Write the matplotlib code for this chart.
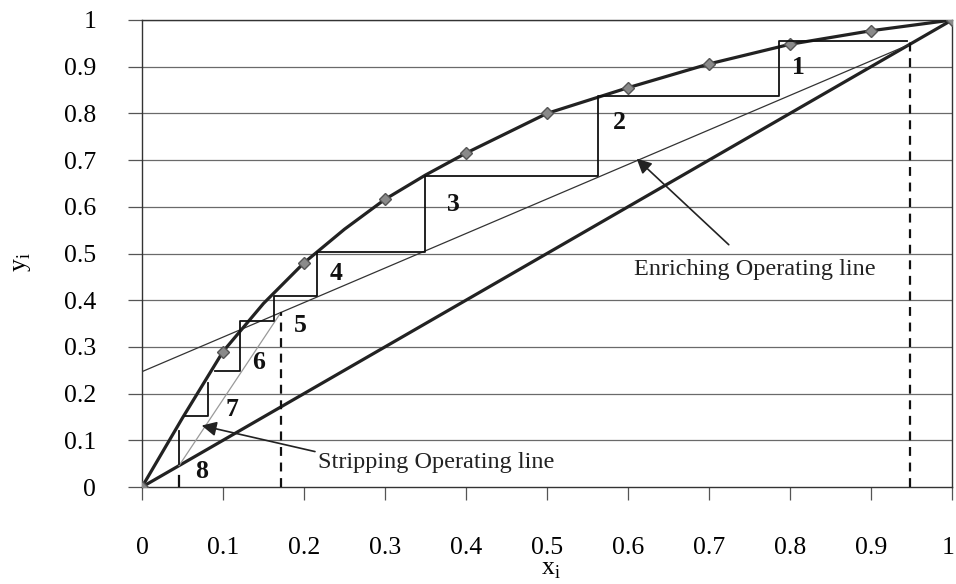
import numpy as np
import matplotlib
matplotlib.use("Agg")
import matplotlib.pyplot as plt
import matplotlib.transforms as mtransforms

plt.rcParams['font.family'] = ['Liberation Serif', 'DejaVu Serif']

# equilibrium curve (markers at every 0.1)
eq_x = [0.0, 0.05, 0.1, 0.15, 0.2, 0.25, 0.3, 0.35, 0.4, 0.5, 0.6, 0.7, 0.8, 0.9, 1.0]
eq_y = [0.0, 0.148, 0.29, 0.393, 0.48, 0.552, 0.616, 0.668, 0.715, 0.80, 0.855, 0.906, 0.948, 0.977, 1.0]
marker_idx = [0, 2, 4, 6, 8, 9, 10, 11, 12, 13, 14]

# operating lines
diag_x = [0.0, 1.0]
diag_y = [0.0, 1.0]
enrich_x = [0.0, 0.948]
enrich_y = [0.247, 0.948]
strip_x = [0.0457, 0.1716]
strip_y = [0.0457, 0.374]

# feed / distillate / bottoms compositions (dashed verticals)
xD, yD = 0.948, 0.955
xF, yF = 0.1716, 0.374
xW, yW = 0.0457, 0.024

# stage stepping (nan breaks the pen)
stair_x = [0.945, 0.787, 0.787, 0.5625, 0.5625, 0.35, 0.35, 0.216, 0.216, 0.163, 0.163, 0.121, 0.121, 0.09,
           np.nan, 0.082, 0.082, 0.053, np.nan, 0.0457, 0.0457]
stair_y = [0.954, 0.954, 0.837, 0.837, 0.667, 0.667, 0.504, 0.504, 0.41, 0.41, 0.356, 0.356, 0.249, 0.249,
           np.nan, 0.222, 0.151, 0.151, np.nan, 0.119, 0.049]

stage_labels = ['1', '2', '3', '4', '5', '6', '7', '8']
stage_x = [0.81, 0.589, 0.384, 0.2395, 0.195, 0.1436, 0.111, 0.0737]
stage_y = [0.898, 0.78, 0.605, 0.457, 0.346, 0.267, 0.167, 0.033]

yticks = [0, 0.1, 0.2, 0.3, 0.4, 0.5, 0.6, 0.7, 0.8, 0.9, 1]
ytick_labels = ['0', '0.1', '0.2', '0.3', '0.4', '0.5', '0.6', '0.7', '0.8', '0.9', '1']
xticks = yticks
xtick_labels = ytick_labels

fig = plt.figure(figsize=(9.56, 5.84), dpi=100)
ax = fig.add_axes([142/956, 97/584, 810/956, 467/584])

ax.set_xlim(0, 1)
ax.set_ylim(0, 1)

# grid, horizontal only
for yv in yticks[1:]:
    ax.axhline(yv, color='#6a6a6a', lw=0.9, zorder=1)

for s in ['left', 'bottom', 'right', 'top']:
    ax.spines[s].set_color('#333333')
    ax.spines[s].set_linewidth(1.0)

ax.set_xticks(xticks)
ax.set_xticklabels(xtick_labels)
ax.set_yticks(yticks)
ax.set_yticklabels(ytick_labels)
ax.tick_params(axis='y', direction='out', length=10, width=0.9, color='#555555', pad=23, labelsize=18.5)
ax.tick_params(axis='x', direction='out', length=9, width=0.9, color='#555555', pad=27, labelsize=18.5)

# keep the last x label "1" inside the picture
last = ax.get_xticklabels()[-1]
last.set_transform(last.get_transform() + mtransforms.ScaledTranslation(-4/100, 0, fig.dpi_scale_trans))

# lines
ax.plot(diag_x, diag_y, color='#222222', lw=2.3, zorder=3)
ax.plot(enrich_x, enrich_y, color='#333333', lw=0.9, zorder=3)
ax.plot(strip_x, strip_y, color='#9a9a9a', lw=0.9, zorder=3)
ax.plot(eq_x, eq_y, color='#222222', lw=2.3, zorder=4,
        marker='D', markevery=marker_idx, markersize=6.5,
        markerfacecolor='#8a8a8a', markeredgecolor='#555555', markeredgewidth=1.0)

ax.plot(stair_x, stair_y, color='#111111', lw=1.3, zorder=5)

dash = (0, (4, 3))
ax.plot([xD, xD], [0, yD], color='#111111', lw=1.6, linestyle=dash, zorder=5)
ax.plot([xF, xF], [0, yF], color='#111111', lw=1.6, linestyle=dash, zorder=5)
ax.plot([xW, xW], [0, yW], color='#111111', lw=1.6, zorder=5)

for lab, sx, sy in zip(stage_labels, stage_x, stage_y):
    ax.text(sx, sy, lab, fontsize=18.5, fontweight='bold', ha='center', va='center', color='#111111', zorder=6)

ax.annotate('Enriching Operating line', xy=(0.6107, 0.703), xytext=(0.757, 0.466),
            fontsize=17.5, ha='center', va='center', color='#222222',
            arrowprops=dict(arrowstyle='-|>', color='#222222', lw=1.2, mutation_scale=22,
                            shrinkA=12, shrinkB=0))
ax.annotate('Stripping Operating line', xy=(0.0737, 0.1316), xytext=(0.217, 0.052),
            fontsize=17.5, ha='left', va='center', color='#222222',
            arrowprops=dict(arrowstyle='-|>', color='#222222', lw=1.2, mutation_scale=22,
                            shrinkA=0, shrinkB=0, relpos=(0.0, 1.0)))

fig.text(22/956, 1 - 262/584, r'y$_\mathregular{i}$', rotation=90, fontsize=18.5, ha='center', va='center')
fig.text(551/956, 1 - 570/584, r'x$_\mathregular{i}$', fontsize=18.5, ha='center', va='center')

fig.savefig('out.png', dpi=100)
